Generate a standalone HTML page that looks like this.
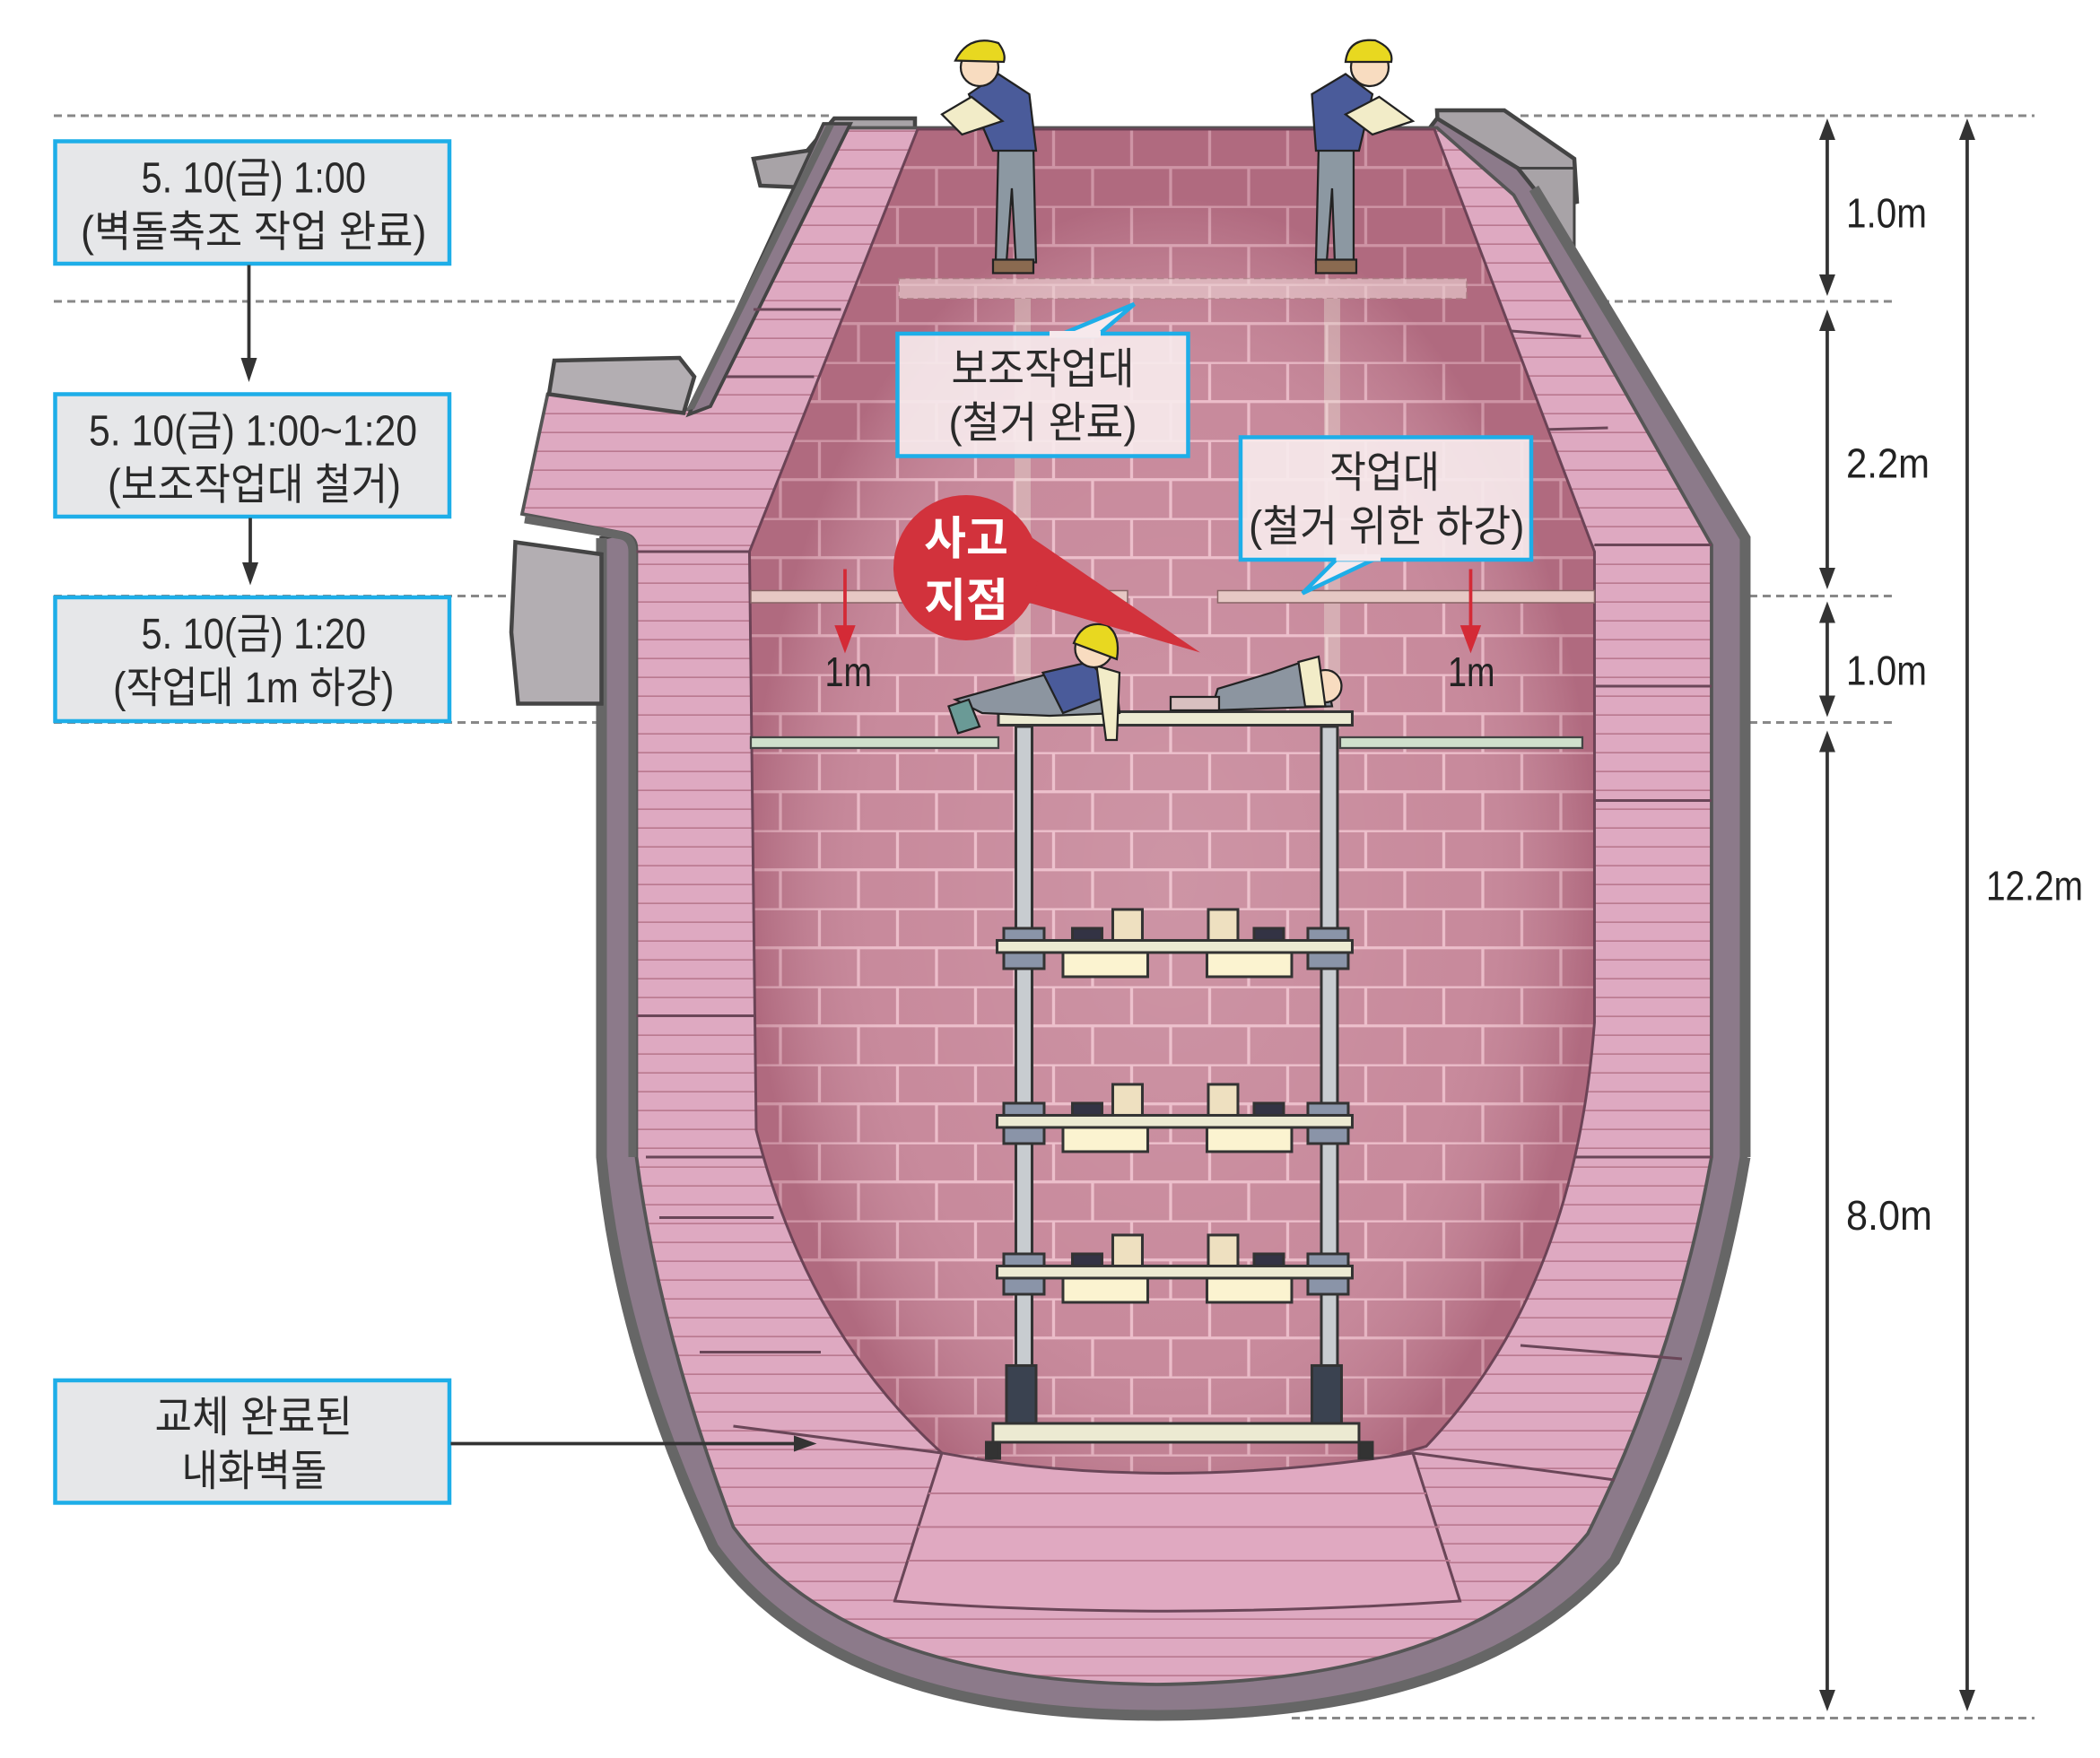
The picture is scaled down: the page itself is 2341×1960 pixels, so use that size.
<!DOCTYPE html>
<html><head><meta charset="utf-8"><style>
html,body{margin:0;padding:0;background:#fff}
svg{display:block}
text{font-family:"Liberation Sans","Noto Sans CJK KR",sans-serif}
.bx{font-size:32px;fill:#2a2a2a}
.dm{font-size:31px;fill:#222}
</style></head><body>
<svg width="2341" height="1960" viewBox="0 0 1560.7 1306.7" xmlns="http://www.w3.org/2000/svg">
<defs>
<pattern id="brick" width="58" height="58" patternUnits="userSpaceOnUse" x="0" y="95">
<rect width="58" height="58" fill="#c27d91"/>
<path d="M0 0.5H58M0 29.5H58M29 0V29M0 29V58M58 29V58" stroke="#eab6c4" stroke-width="2.2" fill="none"/>
</pattern>
<pattern id="ref" width="40" height="14" patternUnits="userSpaceOnUse">
<rect width="40" height="14" fill="#dea9c1"/>
<path d="M0 13.5H40" stroke="#b9788f" stroke-width="1.2"/>
</pattern>
<radialGradient id="glow" cx="0.5" cy="0.55" r="0.5">
<stop offset="0" stop-color="#fff" stop-opacity="0.18"/>
<stop offset="0.7" stop-color="#fff" stop-opacity="0.1"/>
<stop offset="1" stop-color="#7a3048" stop-opacity="0.25"/>
</radialGradient>
</defs>

<!-- dashed guide lines -->
<g stroke="#888" stroke-width="2" stroke-dasharray="6,4" fill="none">
<path d="M40 86H620M1130 86H1512"/>
<path d="M40 224H1410"/>
<path d="M40 443H560M1180 443H1410"/>
<path d="M40 537H1410"/>
<path d="M960 1277H1512"/>
</g>

<!-- top caps -->
<path d="M560 118L600 112L620 88L680 88L680 100L630 115L612 140L565 138Z" fill="#a8a3a7" stroke="#444" stroke-width="3"/>
<path d="M1068 82L1118 82L1170 118L1172 150L1150 155L1128 125L1070 125Z" fill="#a8a3a7" stroke="#444" stroke-width="3"/>
<path d="M1128 125L1170 125L1170 185L1150 160Z" fill="#a8a3a7" stroke="#444" stroke-width="2"/>

<!-- outer shell -->
<path d="M1068 88L1128 125L1140 140L1297 400L1297 860Q1270 1020 1200 1160Q1100 1275 860 1275Q620 1275 530 1150Q460 1000 447 860L447 400L470 395L478 860Z" fill="#8c7a8a" stroke="#444" stroke-width="3"/>
<path d="M1140 140L1297 400L1297 860" fill="none" stroke="#666" stroke-width="8"/>
<path d="M447 400L447 860Q460 1000 530 1150Q620 1275 860 1275Q1100 1275 1200 1160Q1270 1020 1297 860" fill="none" stroke="#666" stroke-width="8"/>
<!-- pink refractory -->
<path d="M630 95L1068 95L1125 145L1272 405L1272 860Q1245 1010 1180 1140Q1090 1250 860 1252Q630 1250 545 1135Q490 990 473 860L473 408Q473 398 462 396L388 382L407 293L517 305L628 95Z" fill="url(#ref)" stroke="#555" stroke-width="2.5"/>
<!-- left upper shell diagonal -->
<path d="M612 92L632 92L528 302L512 308Z" fill="#8c7a8a" stroke="#444" stroke-width="2.5"/>
<path d="M614 93L620 93L516 304L510 305Z" fill="#666"/>
<!-- left gray blocks -->
<path d="M412 268L505 266L516 280L508 307L408 293Z" fill="#b3aeb2" stroke="#444" stroke-width="3"/>
<path d="M383 403L447 412L447 523L385 523L380 470Z" fill="#b3aeb2" stroke="#444" stroke-width="3"/>
<path d="M390 386L462 398Q470 400 470 410L470 860" fill="none" stroke="#666" stroke-width="6"/>
<!-- refractory block seams -->
<g stroke="#6a4658" stroke-width="2" fill="none">
<path d="M473 410H557M473 755H570V860H480M490 905H575M520 1005H610M545 1060L700 1080"/>
<path d="M1185 405H1272M1180 510H1272M1168 595H1272M1160 625V860M1160 860H1272M1130 1000L1250 1010M1050 1080L1200 1100"/>
<path d="M560 230L625 230M540 280L605 280M1110 245L1175 250M1120 320L1195 318"/>
<path d="M700 1080L665 1190M1050 1080L1085 1190"/>
</g>
<!-- inner brick cavity -->
<path d="M682 96L1066 96L1185 410L1185 760Q1170 960 1060 1075Q960 1105 860 1105Q760 1105 700 1080Q600 990 562 840L557 410Z" fill="url(#brick)" stroke="#6a4658" stroke-width="2"/>
<path d="M682 96L1066 96L1185 410L1185 760Q1170 960 1060 1075Q960 1105 860 1105Q760 1105 700 1080Q600 990 562 840L557 410Z" fill="url(#glow)"/>
<!-- floor bricks -->
<path d="M700 1080Q860 1110 1050 1080L1085 1190Q860 1205 665 1190Z" fill="#e0a9c1" stroke="#6a4658" stroke-width="2"/>
<g stroke="#b9788f" stroke-width="1.2"><path d="M690 1110H1060M682 1135H1070M675 1160H1078"/></g>

<!-- ghost upper platform -->
<rect x="668" y="207" width="422" height="15" fill="#f0d8d8" opacity="0.6" stroke="#a88" stroke-dasharray="5,3"/>
<rect x="754" y="222" width="12" height="320" fill="#eed" opacity="0.35"/>
<rect x="984" y="222" width="12" height="320" fill="#eed" opacity="0.35"/>
<rect x="558" y="439" width="280" height="9" fill="#e6c8c4" stroke="#866" stroke-width="1"/>
<rect x="905" y="439" width="280" height="9" fill="#e6c8c4" stroke="#866" stroke-width="1"/>
<rect x="558" y="548" width="184" height="8" fill="#cfe0cc" stroke="#444" stroke-width="1.5"/>
<rect x="996" y="548" width="180" height="8" fill="#cfe0cc" stroke="#444" stroke-width="1.5"/>

<!-- scaffold -->
<g stroke="#333" stroke-width="2">
<rect x="755" y="540" width="12" height="520" fill="#c8ccd0"/>
<rect x="982" y="540" width="12" height="520" fill="#c8ccd0"/>
<rect x="742" y="529" width="263" height="10" fill="#ecead2"/>
<g fill="#fbf3d0">
<rect x="790" y="708" width="63" height="18"/><rect x="897" y="708" width="63" height="18"/>
<rect x="790" y="838" width="63" height="18"/><rect x="897" y="838" width="63" height="18"/>
<rect x="790" y="950" width="63" height="18"/><rect x="897" y="950" width="63" height="18"/>
</g>
<g fill="#eee0c0">
<rect x="827" y="676" width="22" height="24"/><rect x="898" y="676" width="22" height="24"/>
<rect x="827" y="806" width="22" height="24"/><rect x="898" y="806" width="22" height="24"/>
<rect x="827" y="918" width="22" height="24"/><rect x="898" y="918" width="22" height="24"/>
</g>
<g fill="#334">
<rect x="797" y="690" width="22" height="10"/><rect x="932" y="690" width="22" height="10"/>
<rect x="797" y="820" width="22" height="10"/><rect x="932" y="820" width="22" height="10"/>
<rect x="797" y="932" width="22" height="10"/><rect x="932" y="932" width="22" height="10"/>
</g>
<g fill="#8a94a8">
<rect x="746" y="690" width="30" height="10"/><rect x="972" y="690" width="30" height="10"/>
<rect x="746" y="708" width="30" height="12"/><rect x="972" y="708" width="30" height="12"/>
<rect x="746" y="820" width="30" height="10"/><rect x="972" y="820" width="30" height="10"/>
<rect x="746" y="838" width="30" height="12"/><rect x="972" y="838" width="30" height="12"/>
<rect x="746" y="932" width="30" height="10"/><rect x="972" y="932" width="30" height="10"/>
<rect x="746" y="950" width="30" height="12"/><rect x="972" y="950" width="30" height="12"/>
</g>
<rect x="741" y="699" width="264" height="9" fill="#ecead2"/>
<rect x="741" y="829" width="264" height="9" fill="#ecead2"/>
<rect x="741" y="941" width="264" height="9" fill="#ecead2"/>
<rect x="748" y="1015" width="22" height="45" fill="#3a4250"/>
<rect x="975" y="1015" width="22" height="45" fill="#3a4250"/>
<rect x="738" y="1058" width="272" height="14" fill="#ecead2"/>
<rect x="733" y="1072" width="10" height="12" fill="#333"/><rect x="1010" y="1072" width="10" height="12" fill="#333"/>
</g>

<!-- fallen workers -->
<g stroke="#222" stroke-width="1.5">
<path d="M710 520L760 506L790 498L805 505L830 510L832 530L780 532L730 530Z" fill="#8c95a0"/>
<path d="M775 500L810 492L830 515L790 530Z" fill="#4a5b9a"/>
<path d="M815 495L832 500L830 550L822 550Z" fill="#f2ecc8"/>
<circle cx="813" cy="482" r="14" fill="#f8dcc0"/>
<path d="M798 478Q805 460 823 465Q833 472 830 490Z" fill="#e8d820"/>
<path d="M705 525L720 520L728 540L712 545Z" fill="#6a9a96"/>
<path d="M905 512L945 500L965 493L985 500L990 525L900 528Z" fill="#8c95a0"/>
<circle cx="985" cy="510" r="12" fill="#f8dcc0"/>
<path d="M965 492L980 488L985 525L970 525Z" fill="#f2ecc8"/>
<rect x="870" y="518" width="36" height="10" fill="#d8c0c0"/>
</g>
<!-- standing workers -->
<g stroke="#222" stroke-width="1.5">
<path d="M742 110L768 110L770 195L755 195L752 140L748 195L740 195Z" fill="#8c98a2"/>
<path d="M720 70L742 55L765 70L770 112L738 112Z" fill="#4a5b9a"/>
<path d="M700 85L722 72L745 90L715 100Z" fill="#f2ecc8"/>
<circle cx="728" cy="50" r="14" fill="#f8dcc0"/>
<path d="M710 45Q720 25 742 32Q748 40 746 46Z" fill="#e8d820"/>
<rect x="738" y="193" width="30" height="10" fill="#8a6a50"/>
<path d="M980 110L1006 110L1006 195L992 195L990 140L986 195L978 195Z" fill="#8c98a2"/>
<path d="M975 70L1000 55L1020 70L1010 112L978 112Z" fill="#4a5b9a"/>
<path d="M1000 85L1025 72L1050 90L1020 100Z" fill="#f2ecc8"/>
<circle cx="1018" cy="50" r="14" fill="#f8dcc0"/>
<path d="M1000 46Q1002 28 1022 30Q1036 36 1034 46Z" fill="#e8d820"/>
<rect x="978" y="193" width="30" height="10" fill="#8a6a50"/>
</g>

<!-- red arrows & 1m -->
<g stroke="#d42a36" stroke-width="2.5" fill="#d42a36">
<path d="M628 423V468"/><path d="M622 466L634 466L628 482Z"/>
<path d="M1093 423V468"/><path d="M1087 466L1099 466L1093 482Z"/>
</g>
<text x="613" y="510" class="dm" textLength="35" lengthAdjust="spacingAndGlyphs">1m</text>
<text x="1076" y="510" class="dm" textLength="35" lengthAdjust="spacingAndGlyphs">1m</text>

<!-- accident callout -->
<path d="M760 395L892 485L765 448Z" fill="#d2323c"/>
<circle cx="718" cy="422" r="54" fill="#d2323c"/>
<text x="718" y="412" font-size="34" font-weight="bold" fill="#fff" text-anchor="middle">사고</text>
<text x="718" y="458" font-size="34" font-weight="bold" fill="#fff" text-anchor="middle">지점</text>

<!-- callouts -->
<path d="M785 250L843 226L815 250Z" fill="#f6e9ec" stroke="#1eaee8" stroke-width="3"/>
<rect x="667" y="248" width="216" height="91" fill="#f6e9ec" fill-opacity="0.92" stroke="#1eaee8" stroke-width="3"/>
<rect x="780" y="246" width="38" height="5" fill="#f6e9ec"/>
<text x="707" y="285" class="bx" textLength="136" lengthAdjust="spacingAndGlyphs">보조작업대</text>
<text x="705" y="325" class="bx" textLength="140" lengthAdjust="spacingAndGlyphs">(철거 완료)</text>
<path d="M995 414L968 441L1025 414Z" fill="#f6e9ec" stroke="#1eaee8" stroke-width="3"/>
<rect x="922" y="325" width="216" height="91" fill="#f6e9ec" fill-opacity="0.92" stroke="#1eaee8" stroke-width="3"/>
<rect x="993" y="412" width="33" height="5" fill="#f6e9ec"/>
<text x="988" y="362" class="bx" textLength="82" lengthAdjust="spacingAndGlyphs">작업대</text>
<text x="928" y="402" class="bx" textLength="205" lengthAdjust="spacingAndGlyphs">(철거 위한 하강)</text>

<!-- left boxes -->
<g stroke="#1eaee8" stroke-width="3" fill="#e6e7e9">
<rect x="41" y="105" width="293" height="91"/>
<rect x="41" y="293" width="293" height="91"/>
<rect x="41" y="444" width="293" height="92"/>
<rect x="41" y="1026" width="293" height="91"/>
</g>
<text x="105" y="143" class="bx" textLength="167" lengthAdjust="spacingAndGlyphs">5. 10(금) 1:00</text>
<text x="60" y="183" class="bx" textLength="257" lengthAdjust="spacingAndGlyphs">(벽돌축조 작업 완료)</text>
<text x="66" y="331" class="bx" textLength="244" lengthAdjust="spacingAndGlyphs">5. 10(금) 1:00~1:20</text>
<text x="80" y="371" class="bx" textLength="218" lengthAdjust="spacingAndGlyphs">(보조작업대 철거)</text>
<text x="105" y="482" class="bx" textLength="167" lengthAdjust="spacingAndGlyphs">5. 10(금) 1:20</text>
<text x="84" y="522" class="bx" textLength="209" lengthAdjust="spacingAndGlyphs">(작업대 1m 하강)</text>
<text x="115" y="1064" class="bx" textLength="147" lengthAdjust="spacingAndGlyphs">교체 완료된</text>
<text x="135" y="1104" class="bx" textLength="108" lengthAdjust="spacingAndGlyphs">내화벽돌</text>

<!-- flow arrows -->
<g stroke="#333" stroke-width="2.5" fill="none">
<path d="M185 197V268"/><path d="M186 385V420"/><path d="M335 1073H592"/>
</g>
<g fill="#333">
<path d="M179 266L191 266L185 284Z"/>
<path d="M180 418L192 418L186 435Z"/>
<path d="M590 1067L590 1079L607 1073Z"/>
</g>

<!-- dimension arrows -->
<g stroke="#333" stroke-width="2.5" fill="none">
<path d="M1358 100V208M1358 242V426M1358 459V521M1358 555V1260M1462 100V1260"/>
</g>
<g fill="#333">
<path d="M1352 104L1364 104L1358 88Z"/><path d="M1352 204L1364 204L1358 220Z"/>
<path d="M1352 246L1364 246L1358 230Z"/><path d="M1352 422L1364 422L1358 438Z"/>
<path d="M1352 463L1364 463L1358 447Z"/><path d="M1352 517L1364 517L1358 533Z"/>
<path d="M1352 559L1364 559L1358 543Z"/><path d="M1352 1256L1364 1256L1358 1272Z"/>
<path d="M1456 104L1468 104L1462 88Z"/><path d="M1456 1256L1468 1256L1462 1272Z"/>
</g>
<text x="1372" y="169" class="dm" textLength="60" lengthAdjust="spacingAndGlyphs">1.0m</text>
<text x="1372" y="355" class="dm" textLength="62" lengthAdjust="spacingAndGlyphs">2.2m</text>
<text x="1372" y="509" class="dm" textLength="60" lengthAdjust="spacingAndGlyphs">1.0m</text>
<text x="1372" y="914" class="dm" textLength="64" lengthAdjust="spacingAndGlyphs">8.0m</text>
<text x="1476" y="669" class="dm" textLength="72" lengthAdjust="spacingAndGlyphs">12.2m</text>
</svg>
</body></html>
